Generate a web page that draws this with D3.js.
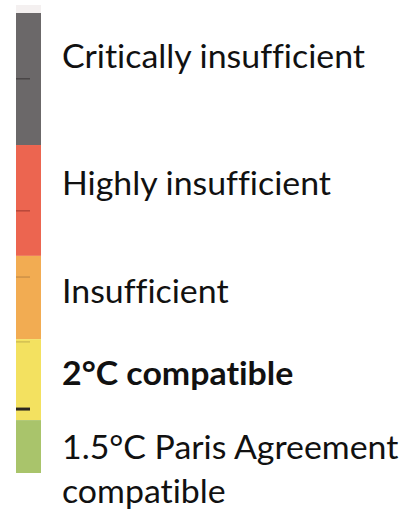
<!DOCTYPE html>
<html>
<head>
<meta charset="utf-8">
<script src="https://cdn.jsdelivr.net/npm/d3@7"></script>
<style>
  body { margin: 0; background: #fff; }
  text { font-family: Lato, "Open Sans", sans-serif; fill: #111; font-variant-ligatures: none; }
</style>
</head>
<body>
<svg class="legend" width="410" height="520"></svg>
<script>
var categories = ["Critically insufficient", "Highly insufficient", "Insufficient", "2°C compatible", "1.5°C Paris Agreement compatible"];
// band edges on a 0-100 scale, top to bottom
var bandStart = [0, 28.7, 52.8, 70.9, 88.5];
var bandEnd = [28.7, 52.8, 70.9, 88.5, 100];
var bandColors = ["#6b6869", "#ec6550", "#f2ac52", "#f3e160", "#a9c46b"];
var boldLabel = [false, false, false, true, false];
// little marks on the left edge of the bar
var markAt = [14.3, 43.0, 57.4, 71.5, 86.1];
var markColors = ["#4a4647", "#b8483a", "#c48a45", "#c9b650", "#2b2620"];
var markWidth = [1.5, 1.5, 1.2, 1.2, 3];

var svg = d3.select(".legend");

var y = d3.scaleLinear().domain([0, 100]).range([13, 473]);
var barX = 16, barW = 25;

var bands = categories.map(function(c, i) {
  return {name: c, start: bandStart[i], end: bandEnd[i], color: bandColors[i], bold: boldLabel[i]};
});

// faint top edge like the scanned original
svg.append("rect")
  .attr("x", barX).attr("y", y(0) - 8)
  .attr("width", barW).attr("height", 8)
  .style("fill", "#f4f0f0");

svg.append("g")
  .selectAll("rect")
  .data(bands)
  .enter().append("rect")
  .attr("x", barX)
  .attr("y", function(d) { return y(d.start); })
  .attr("width", barW)
  .attr("height", function(d) { return y(d.end) - y(d.start); })
  .style("fill", function(d) { return d.color; });

svg.append("g")
  .selectAll("line")
  .data(markAt)
  .enter().append("line")
  .attr("x1", barX).attr("x2", barX + 14)
  .attr("y1", function(d) { return y(d); })
  .attr("y2", function(d) { return y(d); })
  .style("stroke", function(d, i) { return markColors[i]; })
  .style("stroke-width", function(d, i) { return markWidth[i]; });

// label baselines (px), second line for long one
var labelBase = [68, 195, 303, 385, 459];
var lineGap = 44;
var squeeze = null;

var label = svg.append("g")
  .selectAll("text")
  .data(bands)
  .enter().append("text")
  .attr("x", 62)
  .attr("y", function(d, i) { return labelBase[i]; })
  .style("font-size", "32px")
  .style("font-weight", function(d) { return d.bold ? "bold" : "normal"; });

label.each(function(d) {
  var t = d3.select(this);
  var lines = d.name === "1.5°C Paris Agreement compatible"
    ? ["1.5°C Paris Agreement", "compatible"] : [d.name];
  lines.forEach(function(l, k) {
    t.append("tspan").attr("x", 62).attr("dy", k ? lineGap : 0).text(l);
  });
});

// text in the original is Calibri, narrower than what we have: squeeze to fit
var first = label.filter(function(d, i) { return i === 0; }).select("tspan").node();
squeeze = 303 / first.getComputedTextLength();
label.selectAll("tspan").each(function() {
  var w = this.getComputedTextLength();
  d3.select(this).attr("textLength", w * squeeze).attr("lengthAdjust", "spacingAndGlyphs");
});
</script>
</body>
</html>
